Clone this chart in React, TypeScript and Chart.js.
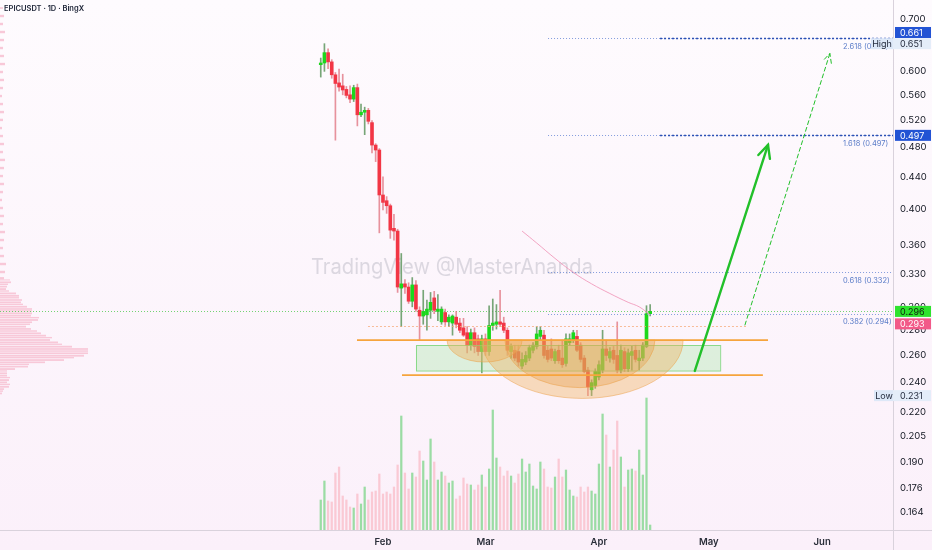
import React, { useEffect, useRef } from 'react';
import { Chart, registerables } from 'chart.js';
Chart.register(...registerables);

const FONT = 'Inter, "Noto Sans", sans-serif';

// ---------- data ----------
const firstDay = 14; // day index (days since Jan 1) of the first candle (Jan 15)
const opens = [0.612,0.615,0.634,0.617,0.594,0.580,0.575,0.569,0.560,0.553,
0.572,0.528,0.532,0.535,0.516,0.483,0.476,0.417,0.410,0.404,
0.378,0.375,0.317,0.321,0.318,0.305,0.320,0.297,0.292,0.293,
0.297,0.308,0.296,0.287,0.295,0.287,0.286,0.291,0.286,0.282,
0.278,0.268,0.278,0.273,0.263,0.273,0.263,0.284,0.285,0.287,
0.286,0.280,0.263,0.264,0.263,0.252,0.255,0.258,0.264,0.267,
0.275,0.276,0.264,0.265,0.256,0.264,0.258,0.254,0.270,0.272,
0.275,0.268,0.258,0.249,0.235,0.238,0.244,0.249,0.265,0.258,
0.264,0.260,0.249,0.263,0.250,0.260,0.264,0.256,0.258,0.267,0.294];
const highs = [0.624,0.651,0.641,0.621,0.598,0.604,0.595,0.574,0.575,0.576,
0.578,0.545,0.540,0.538,0.519,0.485,0.478,0.440,0.415,0.406,
0.394,0.377,0.351,0.325,0.322,0.327,0.324,0.300,0.315,0.306,
0.313,0.314,0.311,0.300,0.298,0.293,0.293,0.296,0.290,0.290,
0.283,0.281,0.282,0.276,0.276,0.277,0.301,0.307,0.302,0.315,
0.291,0.282,0.269,0.268,0.268,0.262,0.263,0.268,0.270,0.283,
0.283,0.280,0.267,0.273,0.265,0.268,0.272,0.277,0.277,0.280,
0.280,0.270,0.260,0.251,0.242,0.250,0.256,0.280,0.272,0.266,
0.267,0.287,0.268,0.266,0.265,0.267,0.268,0.264,0.270,0.301,0.302];
const lows = [0.590,0.600,0.605,0.588,0.490,0.566,0.560,0.555,0.547,0.549,
0.511,0.525,0.498,0.514,0.472,0.460,0.373,0.399,0.395,0.367,
0.365,0.313,0.283,0.312,0.303,0.300,0.296,0.272,0.285,0.280,
0.290,0.294,0.288,0.285,0.284,0.283,0.276,0.282,0.278,0.275,
0.262,0.264,0.262,0.260,0.247,0.260,0.260,0.280,0.281,0.283,
0.278,0.260,0.258,0.256,0.252,0.250,0.253,0.256,0.262,0.265,
0.272,0.258,0.255,0.256,0.254,0.254,0.251,0.252,0.268,0.270,
0.263,0.255,0.247,0.231,0.231,0.236,0.242,0.247,0.256,0.255,
0.254,0.247,0.247,0.248,0.248,0.249,0.255,0.249,0.256,0.266,0.292];
const closes = [0.615,0.634,0.617,0.594,0.579,0.573,0.568,0.559,0.553,0.572,
0.528,0.532,0.535,0.518,0.483,0.476,0.417,0.408,0.404,0.376,
0.375,0.318,0.321,0.318,0.305,0.320,0.298,0.292,0.296,0.298,
0.304,0.297,0.298,0.298,0.287,0.291,0.292,0.285,0.280,0.276,
0.268,0.278,0.267,0.263,0.273,0.263,0.284,0.286,0.287,0.285,
0.280,0.264,0.267,0.258,0.255,0.257,0.260,0.266,0.268,0.277,
0.280,0.260,0.257,0.258,0.263,0.256,0.253,0.273,0.273,0.278,
0.264,0.257,0.248,0.237,0.240,0.248,0.253,0.265,0.260,0.263,
0.257,0.249,0.264,0.250,0.262,0.263,0.257,0.258,0.268,0.294,0.296];
const volumes = [30,49,29,28,57,63,34,30,23,22,
36,26,43,30,38,39,56,36,38,36,
43,65,114,57,41,57,53,79,69,50,
91,68,50,58,54,47,49,31,34,52,
46,45,40,45,55,43,61,120,72,63,
54,59,54,47,56,71,58,66,44,41,
68,61,43,42,53,71,53,60,40,34,
33,43,38,43,39,36,66,116,95,63,
80,109,73,43,60,61,59,80,55,132,5];

const maDays = [69, 73, 78, 83, 88, 93, 98, 101, 104];
const maValues = [0.375, 0.362, 0.346, 0.332, 0.321, 0.312, 0.304, 0.300, 0.293];

const monthTicks = [31, 59, 90, 120, 151];
const monthLabels = ['Feb', 'Mar', 'Apr', 'May', 'Jun'];
const yTicks = [0.7, 0.6, 0.56, 0.52, 0.48, 0.44, 0.4, 0.36, 0.33, 0.3, 0.28, 0.26, 0.24, 0.22, 0.205, 0.19, 0.176, 0.164];

const profilePrices = [0.7230,0.7062,0.6898,0.6737,0.6580,0.6427,0.6278,0.6131,0.5989,0.5850,
0.5713,0.5580,0.5450,0.5323,0.5201,0.5078,0.4960,0.4845,0.4732,0.4623,
0.4514,0.4409,0.4307,0.4206,0.4109,0.4013,0.3920,0.3828,0.3739,0.3652,
0.3567,0.3484,0.3403,0.3324,
0.3263,0.3247,0.3225,0.3206,0.3184,0.3161,0.3143,0.3121,0.3099,0.3081,
0.3061,0.3040,0.3022,0.3001,0.2981,0.2964,0.2943,0.2923,0.2906,0.2886,
0.2867,0.2850,0.2830,0.2811,0.2794,0.2775,0.2756,0.2740,0.2721,0.2702,
0.2687,0.2668,0.2650,0.2634,0.2617,0.2598,0.2583,0.2565,0.2548,0.2533,
0.2516,0.2498,0.2484,0.2467,0.2450,0.2436,0.2418,0.2402,0.2388,0.2371,
0.2355,0.2341,0.2325];
const profileWidths = [3,4,3,5,4,3,4,5,3,4,
3,2,3,4,3,2,3,4,3,5,
4,3,4,3,2,3,4,3,5,4,
3,4,6,5,
4,10,11,8,7,6,9,16,19,19,
22,21,23,27,32,32,32,31,39,38,
32,30,26,31,37,41,46,52,50,58,
62,72,88,88,88,84,74,64,45,29,
28,15,7,7,7,10,9,7,10,9,
4,3,2];

const fibPrices = [0.294, 0.332, 0.497, 0.661];
const fibNames = ['0.382 (0.294)', '0.618 (0.332)', '1.618 (0.497)', '2.618 (0.661)'];
const fibStartDay = 76.1;
const fibStrongStartDay = 106.7;

const lastPrice = 0.296;
const maLast = 0.293;
const highPrice = 0.651;
const lowPrice = 0.231;

// zones drawn by the author: [price, fromDay, toDay]
const supportLines = [[0.272, 23.9, 136.2], [0.2454, 36.2, 134.8]];
const dottedLevel = [0.2836, 26.9, 130.7];
const boxZone = { top: 0.268, bottom: 0.2486, from: 40.0, to: 123.1 };
// cups: [fromDay, toDay, topPrice, bottomPrice]
const cups = [[58.0, 113.0, 0.272, 0.2291], [64.3, 105.3, 0.272, 0.2365], [48.5, 69.0, 0.272, 0.2550]];
const solidArrow = [116.2, 0.2484, 136.2, 0.4832];
const dashedArrow = [129.9, 0.2844, 153.1, 0.6326];

// ---------- geometry of the view ----------
const xMin = -73.64, xMax = 170.35;
const yMin = 0.15553, yMax = 0.7403;

const isUp = (i: number) => closes[i] >= opens[i];

export default function App() {
  const ref = useRef<HTMLCanvasElement>(null);
  useEffect(() => {
    const canvas = ref.current!;
    const dayOf = (i: number) => firstDay + i;

    const bodyData = opens.map((o, i) => ({ x: dayOf(i), y: [o, closes[i]] }));
    const wickData = lows.map((l, i) => ({ x: dayOf(i), y: [l, highs[i]] }));
    const volData = volumes.map((v, i) => ({ x: dayOf(i), y: v }));
    const maData = maDays.map((d, i) => ({ x: d, y: maValues[i] }));

    const overlay: any = {
      id: 'overlay',
      beforeDraw(chart: any) {
        const { ctx, width, height } = chart;
        ctx.save();
        const g = ctx.createLinearGradient(0, 0, 0, height);
        g.addColorStop(0, '#fefbfe');
        g.addColorStop(1, '#fbf0fa');
        ctx.fillStyle = g;
        ctx.fillRect(0, 0, width, height);
        ctx.restore();
      },
      beforeDatasetsDraw(chart: any) {
        const { ctx, chartArea } = chart;
        const x = chart.scales.x, y = chart.scales.y;
        ctx.save();
        // volume profile (widths in pixels from the left edge of the plot)
        const rows = profilePrices.map((p, i) => ({ p, w: profileWidths[i] })).sort((a, b) => a.p - b.p);
        ctx.fillStyle = '#f8c8d8';
        rows.forEach((r, i) => {
          const yc = y.getPixelForValue(r.p);
          const nb = i + 1 < rows.length ? Math.abs(y.getPixelForValue(rows[i + 1].p) - yc) : 2.2;
          const h = Math.min(nb, 3) - 0.6;
          ctx.fillRect(chartArea.left, yc - h / 2, r.w, h);
        });
        // watermark
        ctx.font = `21px ${FONT}`;
        ctx.fillStyle = 'rgba(165,165,180,0.38)';
        ctx.textAlign = 'center';
        ctx.textBaseline = 'middle';
        ctx.fillText('TradingView @MasterAnanda', 452, 268, 282);
        // last price line
        const yl = Math.round(y.getPixelForValue(lastPrice)) + 0.5;
        ctx.strokeStyle = 'rgba(70,200,70,0.75)';
        ctx.lineWidth = 1;
        ctx.setLineDash([1, 2]);
        ctx.beginPath();
        ctx.moveTo(0, yl);
        ctx.lineTo(x.right, yl);
        ctx.stroke();
        ctx.restore();
      },
      afterDatasetsDraw(chart: any) {
        const { ctx } = chart;
        const x = chart.scales.x, y = chart.scales.y;
        const X = (d: number) => x.getPixelForValue(d);
        const Y = (p: number) => y.getPixelForValue(p);
        ctx.save();
        ctx.beginPath();
        ctx.rect(chart.chartArea.left, chart.chartArea.top, chart.chartArea.right - chart.chartArea.left, chart.chartArea.bottom - chart.chartArea.top);
        ctx.clip();
        // green zone
        {
          const x0 = X(boxZone.from), x1 = X(boxZone.to);
          const y0 = Y(boxZone.top), y1 = Y(boxZone.bottom);
          ctx.fillStyle = 'rgba(140,228,140,0.28)';
          ctx.fillRect(x0, y0, x1 - x0, y1 - y0);
          ctx.strokeStyle = 'rgba(110,210,110,0.75)';
          ctx.lineWidth = 1;
          ctx.strokeRect(Math.round(x0) + 0.5, Math.round(y0) + 0.5, x1 - x0, y1 - y0);
        }
        // cups
        const cupFills = ['rgba(240,178,96,0.40)', 'rgba(228,150,55,0.30)', 'rgba(240,178,96,0.45)'];
        cups.forEach((c, i) => {
          const x0 = X(c[0]), x1 = X(c[1]);
          const yt = Y(c[2]), yb = Y(c[3]);
          ctx.beginPath();
          ctx.ellipse((x0 + x1) / 2, yt, (x1 - x0) / 2, yb - yt, 0, 0, Math.PI);
          ctx.closePath();
          ctx.fillStyle = cupFills[i];
          ctx.fill();
          ctx.strokeStyle = 'rgba(235,160,70,0.5)';
          ctx.lineWidth = 1;
          ctx.stroke();
        });
        // dotted light orange level
        ctx.setLineDash([2, 2]);
        ctx.strokeStyle = 'rgba(245,170,120,0.75)';
        ctx.lineWidth = 1;
        ctx.beginPath();
        ctx.moveTo(X(dottedLevel[1]), Math.round(Y(dottedLevel[0])) + 0.5);
        ctx.lineTo(X(dottedLevel[2]), Math.round(Y(dottedLevel[0])) + 0.5);
        ctx.stroke();
        ctx.setLineDash([]);
        // orange support lines
        ctx.strokeStyle = '#f6a43c';
        ctx.lineWidth = 1.8;
        supportLines.forEach((s) => {
          ctx.beginPath();
          ctx.moveTo(X(s[1]), Y(s[0]));
          ctx.lineTo(X(s[2]), Y(s[0]));
          ctx.stroke();
        });
        // fib lines
        fibPrices.forEach((p) => {
          const yy = Math.round(Y(p)) + 0.5;
          ctx.setLineDash([1, 2]);
          ctx.strokeStyle = 'rgba(110,140,215,0.85)';
          ctx.lineWidth = 1;
          ctx.beginPath();
          ctx.moveTo(X(fibStartDay), yy);
          ctx.lineTo(x.right, yy);
          ctx.stroke();
        });
        [fibPrices[2], fibPrices[3]].forEach((p) => {
          const yy = Math.round(Y(p)) + 0.5;
          ctx.setLineDash([2, 2]);
          ctx.strokeStyle = '#2a4fb3';
          ctx.lineWidth = 1.5;
          ctx.beginPath();
          ctx.moveTo(X(fibStrongStartDay), yy);
          ctx.lineTo(x.right, yy);
          ctx.stroke();
        });
        ctx.setLineDash([]);
        ctx.font = `7.5px ${FONT}`;
        ctx.fillStyle = '#5a7cc8';
        ctx.textAlign = 'left';
        ctx.textBaseline = 'middle';
        fibPrices.forEach((p, i) => {
          ctx.fillText(fibNames[i], 843, Y(p) + 8.5);
        });
        // arrows
        const arrow = (a: number[], width: number, dash: number[]) => {
          const x0 = X(a[0]), y0 = Y(a[1]), x1 = X(a[2]), y1 = Y(a[3]);
          ctx.strokeStyle = '#22c02a';
          ctx.lineWidth = width;
          ctx.setLineDash(dash);
          ctx.lineCap = 'round';
          ctx.beginPath();
          ctx.moveTo(x0, y0);
          ctx.lineTo(x1, y1);
          ctx.stroke();
          const ang = Math.atan2(y1 - y0, x1 - x0);
          const L = width > 1.5 ? 14 : 10;
          ctx.beginPath();
          ctx.moveTo(x1 - L * Math.cos(ang - 0.45), y1 - L * Math.sin(ang - 0.45));
          ctx.lineTo(x1, y1);
          ctx.lineTo(x1 - L * Math.cos(ang + 0.45), y1 - L * Math.sin(ang + 0.45));
          ctx.stroke();
          ctx.setLineDash([]);
        };
        arrow(solidArrow, 2.4, []);
        arrow(dashedArrow, 1, [4, 3]);
        ctx.restore();
      },
      afterDraw(chart: any) {
        const { ctx, width, height } = chart;
        const y = chart.scales.y;
        const Y = (p: number) => y.getPixelForValue(p);
        ctx.save();
        // axis separators
        ctx.strokeStyle = '#d9d2dc';
        ctx.lineWidth = 1;
        ctx.beginPath();
        ctx.moveTo(893.5, 0);
        ctx.lineTo(893.5, height);
        ctx.moveTo(0, 530.5);
        ctx.lineTo(width, 530.5);
        ctx.stroke();
        const box = (x0: number, w: number, yc: number, bg: string, fg: string, text: string, tx: number, align: any = 'left') => {
          ctx.fillStyle = bg;
          ctx.fillRect(x0, yc - 5.5, w, 11);
          ctx.fillStyle = fg;
          ctx.font = `9px ${FONT}`;
          ctx.textAlign = align;
          ctx.textBaseline = 'middle';
          ctx.fillText(text, tx, yc + 0.5);
        };
        box(871, 22, Y(highPrice), '#dde8f8', '#1f2638', 'High', 882, 'center');
        box(893, 38, Y(highPrice), '#e4edf9', '#1f2638', highPrice.toFixed(3), 900);
        box(874, 19, Y(lowPrice), '#dde8f8', '#1f2638', 'Low', 884, 'center');
        box(893, 38, Y(lowPrice), '#e4edf9', '#1f2638', lowPrice.toFixed(3), 900);
        box(895, 36, Y(fibPrices[3]) - 6, '#2253d4', '#ffffff', fibPrices[3].toFixed(3), 900);
        box(895, 36, Y(fibPrices[2]), '#2253d4', '#ffffff', fibPrices[2].toFixed(3), 900);
        box(895, 36, Y(lastPrice), '#2ee32e', '#10200f', lastPrice.toFixed(3), 900);
        box(895, 36, Y(maLast) + 9, '#f25a88', '#ffffff', maLast.toFixed(3), 900);
        // title
        ctx.font = `600 7.5px ${FONT}`;
        ctx.fillStyle = '#1b2235';
        ctx.textAlign = 'left';
        ctx.textBaseline = 'middle';
        ctx.fillText('EPICUSDT · 1D · BingX', 4, 9);
        ctx.restore();
      },
    };

    const chart = new Chart(canvas, {
      type: 'bar',
      data: {
        datasets: [
          {
            type: 'bar', label: 'Volume', data: volData as any, xAxisID: 'x', yAxisID: 'yv',
            backgroundColor: volumes.map((_, i) => (isUp(i) ? '#9bdca4' : '#fac9d4')),
            barThickness: 1.6, grouped: false, order: 5,
          },
          {
            type: 'bar', label: 'Wicks', data: wickData as any, xAxisID: 'x', yAxisID: 'y',
            backgroundColor: opens.map((_, i) => (isUp(i) ? 'rgba(95,150,95,0.85)' : 'rgba(225,120,132,0.8)')),
            barThickness: 1, grouped: false, order: 4,
          },
          {
            type: 'bar', label: 'Candles', data: bodyData as any, xAxisID: 'x', yAxisID: 'y',
            backgroundColor: opens.map((_, i) => (isUp(i) ? '#1cd81c' : '#f23645')),
            barThickness: 3, minBarLength: 1, grouped: false, order: 3,
          },
          {
            type: 'line', label: 'MA', data: maData as any, xAxisID: 'x', yAxisID: 'y',
            borderColor: 'rgba(240,150,185,0.85)', borderWidth: 1, pointRadius: 0, tension: 0.4, order: 2,
          } as any,
        ],
      },
      options: {
        responsive: false,
        animation: false,
        events: [],
        layout: { padding: 0 },
        plugins: { legend: { display: false }, tooltip: { enabled: false } },
        scales: {
          x: {
            type: 'linear', min: xMin, max: xMax, offset: false, position: 'bottom', bounds: 'data',
            grid: { display: false, drawTicks: false }, border: { display: false },
            afterBuildTicks: (s: any) => { s.ticks = monthTicks.map((v) => ({ value: v })); },
            afterFit: (s: any) => { s.height = 20; s.paddingLeft = 0; s.paddingRight = 0; s.paddingTop = 0; s.paddingBottom = 0; },
            ticks: {
              autoSkip: false, maxRotation: 0, padding: 6, color: '#2a2e39',
              font: { family: FONT, size: 9.5, weight: '600' },
              callback: (v: any) => { const k = monthTicks.indexOf(Number(v)); return k >= 0 ? monthLabels[k] : ''; },
            },
          },
          y: {
            type: 'logarithmic', position: 'right', min: yMin, max: yMax, bounds: 'data',
            grid: { display: false, drawTicks: false }, border: { display: false },
            afterBuildTicks: (s: any) => { s.ticks = yTicks.map((v) => ({ value: v })); },
            afterFit: (s: any) => { s.width = 39; s.paddingTop = 0; s.paddingBottom = 0; s.paddingLeft = 0; s.paddingRight = 0; },
            ticks: {
              autoSkip: false, padding: 7, color: '#131722',
              font: { family: FONT, size: 9.5 },
              callback: (v: any) => Number(v).toFixed(3),
            },
          },
          yv: { type: 'linear', display: false, min: 0, max: 530 },
        } as any,
      },
      plugins: [overlay],
    } as any);
    return () => chart.destroy();
  }, []);
  return (
    <div style={{ position: 'fixed', left: 0, top: 0, width: 932, height: 550 }}>
      <canvas ref={ref} width={932} height={550} style={{ display: 'block' }} />
    </div>
  );
}
